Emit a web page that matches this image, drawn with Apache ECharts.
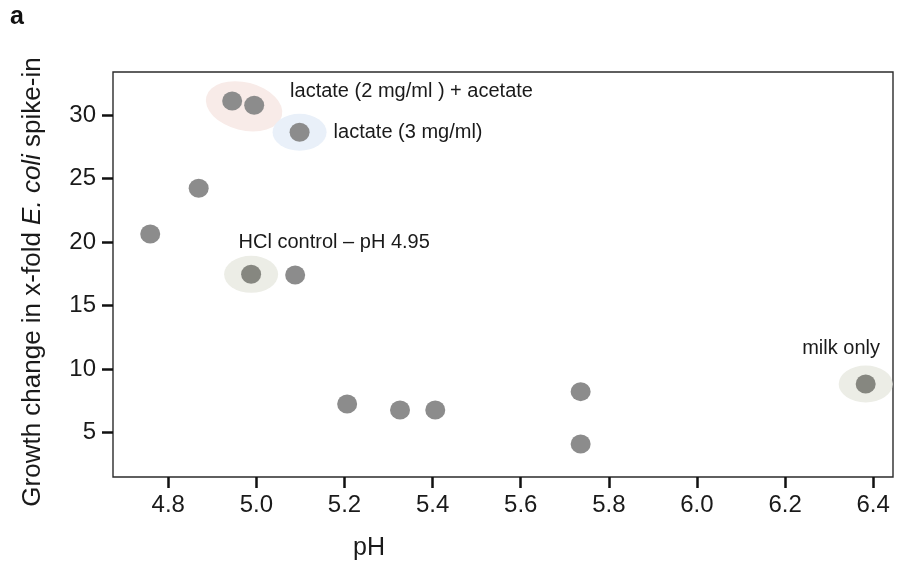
<!DOCTYPE html>
<html><head><meta charset="utf-8">
<script src="https://cdn.jsdelivr.net/npm/echarts@6/dist/echarts.min.js"></script>
<style>html,body{margin:0;padding:0;background:#fff}#c{width:900px;height:563px}</style>
</head><body><div id="c"></div>
<script>
// ---- data ----
const pH = [4.945, 4.995, 5.098, 4.869, 4.759, 5.088, 5.206, 5.326, 5.406, 5.736, 5.736];
const growth = [31.10, 30.76, 28.64, 24.23, 20.64, 17.41, 7.26, 6.79, 6.79, 8.23, 4.11];
const pHShaded = [4.988, 6.383];
const growthShaded = [17.46, 8.83];
const groupLabels = ['lactate (2 mg/ml ) + acetate', 'lactate (3 mg/ml)', 'HCl control \u2013 pH 4.95', 'milk only'];
const groupPH = [4.972, 5.098, 4.988, 6.383];
const groupGrowth = [30.68, 28.64, 17.46, 8.83];
const xTicks = [4.8, 5.0, 5.2, 5.4, 5.6, 5.8, 6.0, 6.2, 6.4];
const yTicks = [5, 10, 15, 20, 25, 30];

// ---- styles ----
const FONT = '"Liberation Sans", Arial, Helvetica, sans-serif';
const groupStyle = [
  {fill: '#f8ebe8', rx: 39, ry: 24, rot: -0.25, dx: 46, dy: -14.5},
  {fill: '#e9f0f9', rx: 27, ry: 18.5, rot: 0, dx: 34, dy: 0},
  {fill: '#ecede6', rx: 27, ry: 18.5, rot: 0, dx: -12.5, dy: -32},
  {fill: '#ecede6', rx: 27, ry: 18.5, rot: 0, dx: -63.5, dy: -36}
];

const chart = echarts.init(document.getElementById('c'), null, {renderer: 'canvas'});
chart.setOption({
  animation: false,
  backgroundColor: '#fff',
  grid: {left: 113, right: 7, top: 72, bottom: 86, show: true, borderColor: '#2b2b2b', borderWidth: 1.4, backgroundColor: 'transparent'},
  xAxis: {
    type: 'value', min: 4.6745, max: 6.445,
    axisLine: {show: false},
    splitLine: {show: false},
    axisTick: {show: true, customValues: xTicks, length: 11, inside: false, lineStyle: {color: '#111', width: 2.5}},
    axisLabel: {customValues: xTicks, margin: 16, fontSize: 24, color: '#1a1a1a', fontFamily: FONT,
      formatter: v => v.toFixed(1)}
  },
  yAxis: {
    type: 'value', min: 1.514, max: 33.38,
    axisLine: {show: false},
    splitLine: {show: false},
    axisTick: {show: true, customValues: yTicks, length: 11, inside: false, lineStyle: {color: '#111', width: 2.5}},
    axisLabel: {customValues: yTicks, margin: 17, fontSize: 24, color: '#1a1a1a', fontFamily: FONT}
  },
  graphic: [
    {type: 'text', x: 10, y: 17, style: {text: 'a', font: 'bold 25px ' + FONT, fill: '#111', align: 'left', verticalAlign: 'middle'}},
    {type: 'text', x: 369, y: 548, style: {text: 'pH', font: '25px ' + FONT, fill: '#1a1a1a', align: 'center', verticalAlign: 'middle'}},
    {type: 'text', x: 33, y: 282, rotation: Math.PI / 2,
      style: {
        text: '{n|Growth change in x-fold }{i|E. coli}{n| spike-in}',
        align: 'center', verticalAlign: 'middle',
        rich: {
          n: {fontSize: 26, fontFamily: FONT, fill: '#1a1a1a'},
          i: {fontSize: 26, fontFamily: FONT, fontStyle: 'italic', fill: '#1a1a1a'}
        }
      }}
  ],
  series: [
    {
      type: 'custom', z: 1, silent: true, clip: false,
      data: groupPH.map((x, i) => [x, groupGrowth[i]]),
      renderItem: (params, api) => {
        const i = params.dataIndex;
        const p = api.coord([api.value(0), api.value(1)]);
        const st = groupStyle[i];
        return {type: 'group', children: [
          {type: 'circle', x: p[0], y: p[1], scaleX: st.rx / st.ry, scaleY: 1, rotation: st.rot,
            shape: {cx: 0, cy: 0, r: st.ry}, style: {fill: st.fill}},
          {type: 'text', x: p[0] + st.dx, y: p[1] + st.dy,
            style: {text: groupLabels[i], fill: '#1a1a1a', font: '20px ' + FONT, align: 'left', verticalAlign: 'middle'}}
        ]};
      }
    },
    {
      type: 'scatter', z: 3, silent: true,
      symbol: 'circle', symbolSize: [20, 19],
      itemStyle: {color: '#8c8c8c', opacity: 1},
      data: pH.map((x, i) => [x, growth[i]])
    },
    {
      type: 'scatter', z: 3, silent: true,
      symbol: 'circle', symbolSize: [20, 19],
      itemStyle: {color: '#868780', opacity: 1},
      data: pHShaded.map((x, i) => [x, growthShaded[i]])
    }
  ]
});
</script></body></html>
